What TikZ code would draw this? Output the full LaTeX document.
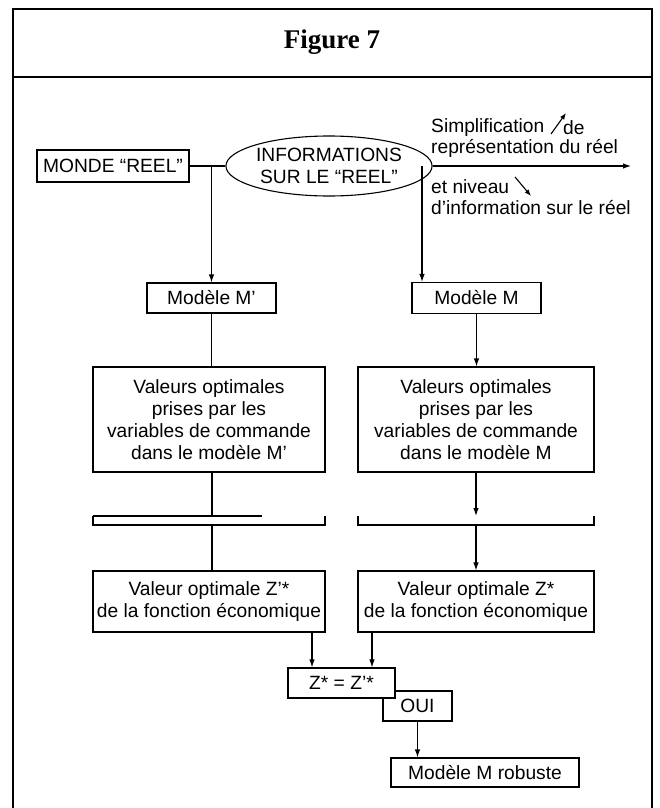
\documentclass[tikz,border=0pt]{standalone}
\usepackage{fontspec}
\setmainfont{Liberation Sans}
\newfontfamily\titlefont{Liberation Serif}
\usetikzlibrary{arrows.meta,shapes.geometric}

\begin{document}
\begin{tikzpicture}[x=1pt,y=1pt,
  every node/.style={font=\fontsize{19.2}{22}\selectfont, inner sep=0pt},
  box/.style={draw, line width=1.1pt, fill=white, align=center},
  conn/.style={line width=1.1pt},
  arr/.style={conn, -{Latex[length=8pt,width=5.5pt]}},
  frame/.style={line width=1.6pt},
  lbl/.style={anchor=west}]

\useasboundingbox (0,0) rectangle (659,-808);

% outer frame and title band
\draw[frame] (13,-808) -- (13,-9) -- (652,-9) -- (652,-808);
\draw[frame] (13,-77) -- (652,-77);
\node[font=\titlefont\fontsize{27}{30}\selectfont\bfseries] (title) at (332,-42) {Figure 7};

% top row
\node[box, minimum width=152, minimum height=32] (monde) at (113,-166) {MONDE “REEL”};
\node[box, ellipse, minimum width=174, minimum height=60] (info) at (329,-166)
  {INFORMATIONS\\SUR LE “REEL”};

% models
\node[box, minimum width=129, minimum height=30] (mp) at (211.5,-298) {Modèle M’};
\node[box, minimum width=129, minimum height=31] (m) at (476.5,-298) {Modèle M};

% optimal values of the control variables
\node[box, minimum width=232, minimum height=105] (vp) at (209,-419.5)
  {Valeurs optimales\\prises par les\\variables de commande\\dans le modèle M’};
\node[box, minimum width=236, minimum height=105] (v) at (476,-419.5)
  {Valeurs optimales\\prises par les\\variables de commande\\dans le modèle M};

% brackets
\coordinate (bl1) at (93,-516);
\coordinate (bl2) at (262,-516);
\coordinate (bl3) at (93,-525);
\coordinate (bl4) at (325,-525);
\coordinate (bl5) at (325,-516);
\draw[conn] (bl1) -- (bl2);
\draw[conn] (bl1) -- (bl3) -- (bl4) -- (bl5);
\coordinate (br1) at (358,-516);
\coordinate (br2) at (594,-516);
\draw[conn] (br1) -- (358,-525) -- (594,-525) -- (br2);

% optimal values of the objective
\node[box, minimum width=232, minimum height=61] (zp) at (209,-601.5)
  {Valeur optimale Z’*\\de la fonction économique};
\node[box, minimum width=236, minimum height=61] (z) at (476,-601.5)
  {Valeur optimale Z*\\de la fonction économique};

% comparison
\node[box, minimum width=69, minimum height=30] (oui) at (417.5,-706) {OUI};
\node[box, minimum width=107, minimum height=30] (eq) at (341.5,-683) {Z* = Z’*};
\node[box, minimum width=188, minimum height=29] (rob) at (485,-772.5) {Modèle M robuste};

% connectors
\coordinate (rend) at (631,-166);
\coordinate (mtap) at (422,-166);
\draw[conn] (monde.east) -- (info.west);
\draw[arr] (monde.east -| mp.north) -- (mp.north);
\draw[arr] (info.east) -- (rend);
\draw[arr] (mtap) -- (mtap |- m.north);

\draw[conn] (mp.south) -- (vp.north -| mp.south);
\draw[arr] (m.south) -- (v.north -| m.south);

\coordinate (xl) at (212,0);
\coordinate (xr) at (476,0);
\draw[conn] (vp.south -| xl) -- (bl1 -| xl);
\draw[conn] (bl3 -| xl) -- (zp.north -| xl);
\draw[arr] (v.south -| xr) -- (br1 -| xr);
\draw[arr] (bl3 -| xr) -- (z.north -| xr);

\coordinate (xa) at (312,0);
\coordinate (xb) at (372,0);
\draw[arr] (zp.south -| xa) -- (eq.north -| xa);
\draw[arr] (z.south -| xb) -- (eq.north -| xb);
\draw[arr] (oui.south) -- (oui.south |- rob.north);

% annotations on the information axis
\node[lbl] (s1) at (431,-128) {Simplification};
\node[lbl] (s2) at (563,-128) {de};
\node[lbl] (s3) at (431,-148) {représentation du réel};
\node[lbl] (n1) at (431,-187) {et niveau};
\node[lbl] (n2) at (431,-208) {d’information sur le réel};
\coordinate (up1) at (551,-134);
\coordinate (up2) at (566,-113);
\coordinate (dn1) at (515,-177);
\coordinate (dn2) at (531,-196);
\draw[conn, -{Latex[length=6.5pt,width=5pt]}] (up1) -- (up2);
\draw[conn, -{Latex[length=6.5pt,width=5pt]}] (dn1) -- (dn2);
\end{tikzpicture}
\end{document}
